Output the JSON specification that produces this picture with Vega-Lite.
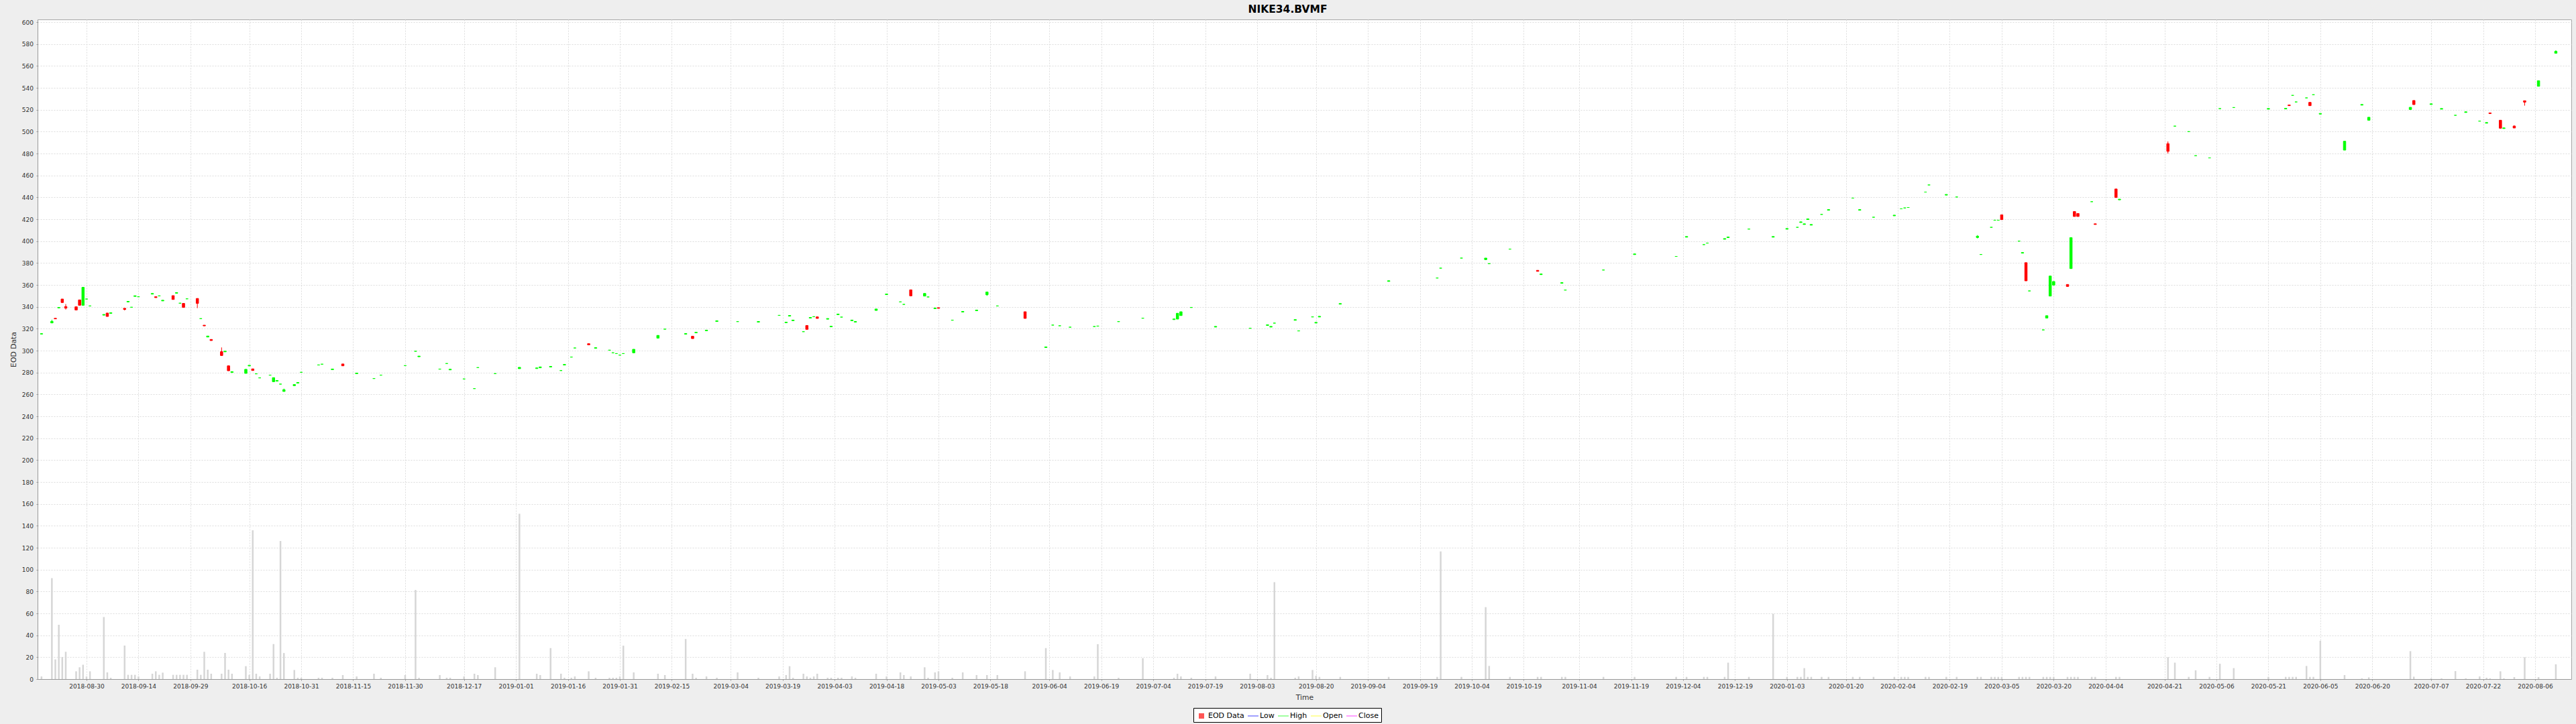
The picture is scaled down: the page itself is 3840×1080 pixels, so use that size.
{
"$schema":"https://vega.github.io/schema/vega-lite/v6.json",
"width":3777,"height":984,
"autosize":{"type":"none"},
"padding":{"left":56,"top":29,"right":7,"bottom":67},
"background":"#eeeeee",
"view":{"fill":"#ffffff","stroke":"#a8a8a8","strokeWidth":1},
"title":{"text":"NIKE34.BVMF","font":"DejaVu Sans","fontSize":15.5,"fontWeight":"bold","color":"#000000","anchor":"middle","frame":"group","dx":-25,"offset":7},
"config":{
"view":{"fill":"#ffffff","stroke":"#a8a8a8","strokeWidth":1},
"axis":{"labelFont":"DejaVu Sans","labelFontSize":9,"labelColor":"#333333","titleFont":"DejaVu Sans","titleFontSize":10.8,"titleFontWeight":"normal","titleColor":"#333333","gridColor":"#dcdcdc","gridDash":[2,2],"gridWidth":1,"domainColor":"#999999","tickColor":"#999999","tickSize":2,"labelPadding":4.5,"labelOverlap":false}
},
"data":{"values":[
{"date":"2018-08-17","open":315.1,"high":315.5,"low":315.1,"close":315.5,"volume":2.4},
{"date":"2018-08-20","open":325.3,"high":328.2,"low":325.0,"close":326.7,"volume":92.2},
{"date":"2018-08-21","open":329.5,"high":329.5,"low":329.0,"close":329.0,"volume":18},
{"date":"2018-08-22","open":339.0,"high":339.4,"low":339.0,"close":339.4,"volume":49.6},
{"date":"2018-08-23","open":347.1,"high":347.1,"low":343.9,"close":343.9,"volume":20.2},
{"date":"2018-08-24","open":340.2,"high":342.5,"low":337.5,"close":338.8,"volume":24.9},
{"date":"2018-08-27","open":340.0,"high":340.0,"low":337.1,"close":337.1,"volume":7.1},
{"date":"2018-08-28","open":346.3,"high":346.3,"low":341.4,"close":341.4,"volume":10.8},
{"date":"2018-08-29","open":341.4,"high":357.8,"low":341.4,"close":357.8,"volume":13.1},
{"date":"2018-08-30","open":347.1,"high":347.1,"low":347.1,"close":347.1,"volume":2.4},
{"date":"2018-08-31","open":340.8,"high":340.8,"low":340.8,"close":340.8,"volume":7.1},
{"date":"2018-09-04","open":332.4,"high":333.0,"low":332.4,"close":333.0,"volume":56.7},
{"date":"2018-09-05","open":334.3,"high":334.3,"low":331.2,"close":331.2,"volume":6.1},
{"date":"2018-09-06","open":334.0,"high":334.6,"low":334.0,"close":334.6,"volume":1.2},
{"date":"2018-09-10","open":338.6,"high":338.6,"low":336.7,"close":337.6,"volume":30.6},
{"date":"2018-09-11","open":344.4,"high":345.0,"low":344.4,"close":345.0,"volume":3.9},
{"date":"2018-09-12","open":339.6,"high":339.6,"low":339.6,"close":339.6,"volume":3.9},
{"date":"2018-09-13","open":349.5,"high":350.1,"low":349.5,"close":350.1,"volume":3.9},
{"date":"2018-09-14","open":349.2,"high":349.2,"low":349.2,"close":349.2,"volume":2.4},
{"date":"2018-09-18","open":351.6,"high":352.2,"low":351.6,"close":352.2,"volume":4.9},
{"date":"2018-09-19","open":349.2,"high":349.2,"low":348.4,"close":348.4,"volume":7.1},
{"date":"2018-09-20","open":350.0,"high":350.0,"low":350.0,"close":350.0,"volume":3.9},
{"date":"2018-09-21","open":345.4,"high":346.0,"low":345.4,"close":346.0,"volume":5.9},
{"date":"2018-09-24","open":350.2,"high":350.2,"low":346.7,"close":346.7,"volume":3.9},
{"date":"2018-09-25","open":352.4,"high":353.0,"low":352.4,"close":353.0,"volume":3.9},
{"date":"2018-09-26","open":343.3,"high":343.3,"low":343.3,"close":343.3,"volume":3.9},
{"date":"2018-09-27","open":343.1,"high":343.1,"low":339.4,"close":339.4,"volume":3.9},
{"date":"2018-09-28","open":347.3,"high":347.3,"low":347.3,"close":347.3,"volume":3.9},
{"date":"2018-10-01","open":347.6,"high":347.8,"low":338.8,"close":343.1,"volume":8.6},
{"date":"2018-10-02","open":329.2,"high":329.2,"low":329.2,"close":329.2,"volume":3.9},
{"date":"2018-10-03","open":323.2,"high":323.2,"low":322.6,"close":322.6,"volume":24.9},
{"date":"2018-10-04","open":312.4,"high":313.3,"low":312.4,"close":313.3,"volume":8.6},
{"date":"2018-10-05","open":310.2,"high":310.2,"low":309.2,"close":309.2,"volume":4.9},
{"date":"2018-10-08","open":299.0,"high":302.9,"low":295.5,"close":295.5,"volume":4.9},
{"date":"2018-10-09","open":298.9,"high":299.5,"low":298.9,"close":299.5,"volume":23.9},
{"date":"2018-10-10","open":286.1,"high":286.1,"low":281.6,"close":281.6,"volume":8.6},
{"date":"2018-10-11","open":280.0,"high":280.8,"low":280.0,"close":280.8,"volume":4.9},
{"date":"2018-10-15","open":279.2,"high":282.9,"low":279.2,"close":282.9,"volume":11.8},
{"date":"2018-10-16","open":286.0,"high":286.6,"low":286.0,"close":286.6,"volume":3.9},
{"date":"2018-10-17","open":283.3,"high":283.3,"low":281.8,"close":281.8,"volume":135.9},
{"date":"2018-10-18","open":278.8,"high":278.8,"low":278.8,"close":278.8,"volume":4.9},
{"date":"2018-10-19","open":275.1,"high":275.1,"low":275.1,"close":275.1,"volume":2.4},
{"date":"2018-10-22","open":277.6,"high":277.6,"low":277.6,"close":277.6,"volume":4.9},
{"date":"2018-10-23","open":271.6,"high":275.3,"low":271.6,"close":275.3,"volume":32},
{"date":"2018-10-24","open":272.1,"high":272.7,"low":272.1,"close":272.7,"volume":1.2},
{"date":"2018-10-25","open":269.4,"high":269.4,"low":269.4,"close":269.4,"volume":126.1},
{"date":"2018-10-26","open":262.7,"high":265.3,"low":262.7,"close":264.3,"volume":23.8},
{"date":"2018-10-29","open":268.0,"high":269.0,"low":268.0,"close":269.0,"volume":8.3},
{"date":"2018-10-30","open":270.3,"high":270.9,"low":270.3,"close":270.9,"volume":1.2},
{"date":"2018-10-31","open":280.2,"high":280.2,"low":280.2,"close":280.2,"volume":1.2},
{"date":"2018-11-05","open":286.9,"high":286.9,"low":286.9,"close":286.9,"volume":1.2},
{"date":"2018-11-06","open":287.6,"high":287.6,"low":287.6,"close":287.6,"volume":1.2},
{"date":"2018-11-09","open":282.6,"high":283.2,"low":282.6,"close":283.2,"volume":1.2},
{"date":"2018-11-12","open":287.8,"high":287.8,"low":286.1,"close":286.1,"volume":3.7},
{"date":"2018-11-16","open":278.9,"high":279.5,"low":278.9,"close":279.5,"volume":2.4},
{"date":"2018-11-21","open":274.5,"high":274.5,"low":274.5,"close":274.5,"volume":4.9},
{"date":"2018-11-23","open":277.6,"high":277.6,"low":277.6,"close":277.6,"volume":1.2},
{"date":"2018-11-30","open":286.3,"high":286.3,"low":286.3,"close":286.3,"volume":3.7},
{"date":"2018-12-03","open":299.4,"high":299.4,"low":299.4,"close":299.4,"volume":81.4},
{"date":"2018-12-04","open":294.4,"high":295.0,"low":294.4,"close":295.0,"volume":1.2},
{"date":"2018-12-10","open":283.1,"high":283.1,"low":283.1,"close":283.1,"volume":3.7},
{"date":"2018-12-12","open":288.2,"high":288.2,"low":288.2,"close":288.2,"volume":1.2},
{"date":"2018-12-13","open":282.4,"high":283.0,"low":282.4,"close":283.0,"volume":1.2},
{"date":"2018-12-17","open":274.1,"high":274.1,"low":274.1,"close":274.1,"volume":2.4},
{"date":"2018-12-20","open":265.3,"high":265.3,"low":265.3,"close":265.3,"volume":4.9},
{"date":"2018-12-21","open":284.5,"high":284.5,"low":284.5,"close":284.5,"volume":3.7},
{"date":"2018-12-26","open":279.0,"high":279.0,"low":279.0,"close":279.0,"volume":10.8},
{"date":"2019-01-02","open":283.5,"high":284.7,"low":283.5,"close":284.7,"volume":151},
{"date":"2019-01-07","open":283.6,"high":284.2,"low":283.6,"close":284.2,"volume":4.9},
{"date":"2019-01-08","open":284.3,"high":285.1,"low":284.3,"close":285.1,"volume":3.7},
{"date":"2019-01-11","open":285.0,"high":285.6,"low":285.0,"close":285.6,"volume":28.3},
{"date":"2019-01-14","open":281.8,"high":281.8,"low":281.8,"close":281.8,"volume":4.9},
{"date":"2019-01-15","open":286.8,"high":287.4,"low":286.8,"close":287.4,"volume":1.2},
{"date":"2019-01-17","open":294.1,"high":294.1,"low":294.1,"close":294.1,"volume":1.2},
{"date":"2019-01-18","open":302.4,"high":302.4,"low":302.4,"close":302.4,"volume":2.4},
{"date":"2019-01-22","open":306.3,"high":306.3,"low":305.3,"close":305.3,"volume":7.1},
{"date":"2019-01-24","open":302.1,"high":302.7,"low":302.1,"close":302.7,"volume":1.2},
{"date":"2019-01-28","open":300.4,"high":300.4,"low":300.4,"close":300.4,"volume":1.2},
{"date":"2019-01-29","open":298.0,"high":298.0,"low":298.0,"close":298.0,"volume":1.2},
{"date":"2019-01-30","open":297.3,"high":297.3,"low":297.3,"close":297.3,"volume":1.2},
{"date":"2019-01-31","open":295.9,"high":295.9,"low":295.9,"close":295.9,"volume":2.4},
{"date":"2019-02-01","open":297.3,"high":297.3,"low":297.3,"close":297.3,"volume":30.5},
{"date":"2019-02-04","open":298.0,"high":301.2,"low":298.0,"close":301.2,"volume":6.1},
{"date":"2019-02-11","open":311.4,"high":313.9,"low":311.4,"close":313.9,"volume":4.9},
{"date":"2019-02-13","open":319.6,"high":319.6,"low":319.6,"close":319.6,"volume":3.7},
{"date":"2019-02-19","open":315.0,"high":315.6,"low":315.0,"close":315.6,"volume":36.6},
{"date":"2019-02-21","open":313.1,"high":313.1,"low":311.0,"close":311.0,"volume":4.9},
{"date":"2019-02-22","open":316.2,"high":316.8,"low":316.2,"close":316.8,"volume":1.2},
{"date":"2019-02-25","open":318.1,"high":318.7,"low":318.1,"close":318.7,"volume":2.4},
{"date":"2019-02-28","open":326.6,"high":327.2,"low":326.6,"close":327.2,"volume":1.2},
{"date":"2019-03-06","open":326.5,"high":326.5,"low":326.5,"close":326.5,"volume":6.1},
{"date":"2019-03-12","open":326.0,"high":326.6,"low":326.0,"close":326.6,"volume":1.2},
{"date":"2019-03-18","open":332.2,"high":332.2,"low":332.2,"close":332.2,"volume":2.4},
{"date":"2019-03-20","open":325.4,"high":326.0,"low":325.4,"close":326.0,"volume":3.7},
{"date":"2019-03-21","open":331.5,"high":332.1,"low":331.5,"close":332.1,"volume":11.8},
{"date":"2019-03-22","open":327.3,"high":327.9,"low":327.3,"close":327.9,"volume":1.2},
{"date":"2019-03-25","open":317.3,"high":317.3,"low":317.3,"close":317.3,"volume":4.9},
{"date":"2019-03-26","open":322.9,"high":322.9,"low":319.4,"close":319.4,"volume":2.4},
{"date":"2019-03-27","open":329.7,"high":330.3,"low":329.7,"close":330.3,"volume":1.2},
{"date":"2019-03-28","open":331.0,"high":331.0,"low":331.0,"close":331.0,"volume":2.4},
{"date":"2019-03-29","open":330.8,"high":330.8,"low":329.4,"close":329.4,"volume":4.9},
{"date":"2019-04-01","open":328.7,"high":329.3,"low":328.7,"close":329.3,"volume":1.2},
{"date":"2019-04-02","open":321.7,"high":322.3,"low":321.7,"close":322.3,"volume":1.2},
{"date":"2019-04-04","open":332.8,"high":333.4,"low":332.8,"close":333.4,"volume":1.2},
{"date":"2019-04-05","open":330.6,"high":330.6,"low":330.6,"close":330.6,"volume":1.2},
{"date":"2019-04-08","open":327.3,"high":327.9,"low":327.3,"close":327.9,"volume":2.4},
{"date":"2019-04-09","open":326.0,"high":326.6,"low":326.0,"close":326.6,"volume":1.2},
{"date":"2019-04-15","open":336.7,"high":338.0,"low":336.7,"close":338.0,"volume":4.9},
{"date":"2019-04-18","open":351.1,"high":351.7,"low":351.1,"close":351.7,"volume":2.4},
{"date":"2019-04-22","open":344.5,"high":344.5,"low":344.5,"close":344.5,"volume":6.1},
{"date":"2019-04-23","open":342.2,"high":342.2,"low":342.2,"close":342.2,"volume":3.7},
{"date":"2019-04-25","open":355.5,"high":355.5,"low":350.0,"close":350.0,"volume":2.4},
{"date":"2019-04-29","open":349.8,"high":352.2,"low":349.8,"close":352.2,"volume":10.8},
{"date":"2019-04-30","open":349.0,"high":349.0,"low":349.0,"close":349.0,"volume":1.2},
{"date":"2019-05-02","open":338.3,"high":338.9,"low":338.3,"close":338.9,"volume":6.1},
{"date":"2019-05-03","open":339.2,"high":339.2,"low":338.6,"close":338.6,"volume":7.1},
{"date":"2019-05-07","open":327.8,"high":327.8,"low":327.8,"close":327.8,"volume":1.2},
{"date":"2019-05-10","open":335.2,"high":335.8,"low":335.2,"close":335.8,"volume":6.1},
{"date":"2019-05-14","open":336.4,"high":337.0,"low":336.4,"close":337.0,"volume":3.7},
{"date":"2019-05-17","open":351.0,"high":353.5,"low":350.0,"close":353.5,"volume":3.7},
{"date":"2019-05-20","open":340.8,"high":340.8,"low":340.8,"close":340.8,"volume":3.7},
{"date":"2019-05-28","open":335.5,"high":335.5,"low":329.4,"close":329.4,"volume":7.1},
{"date":"2019-06-03","open":302.8,"high":303.4,"low":302.8,"close":303.4,"volume":28.3},
{"date":"2019-06-05","open":323.3,"high":323.3,"low":323.3,"close":323.3,"volume":8.3},
{"date":"2019-06-07","open":322.7,"high":322.7,"low":322.7,"close":322.7,"volume":6.1},
{"date":"2019-06-10","open":321.4,"high":321.4,"low":321.4,"close":321.4,"volume":2.4},
{"date":"2019-06-17","open":322.0,"high":322.0,"low":322.0,"close":322.0,"volume":2.4},
{"date":"2019-06-18","open":322.4,"high":322.4,"low":322.4,"close":322.4,"volume":31.9},
{"date":"2019-06-24","open":326.5,"high":326.5,"low":326.5,"close":326.5,"volume":1.2},
{"date":"2019-07-01","open":329.6,"high":329.6,"low":329.6,"close":329.6,"volume":19.1},
{"date":"2019-07-10","open":328.3,"high":328.9,"low":328.3,"close":328.9,"volume":1.2},
{"date":"2019-07-11","open":328.8,"high":334.1,"low":328.8,"close":334.1,"volume":4.9},
{"date":"2019-07-12","open":332.0,"high":335.5,"low":332.0,"close":335.5,"volume":2.4},
{"date":"2019-07-15","open":339.4,"high":339.4,"low":339.4,"close":339.4,"volume":1.2},
{"date":"2019-07-22","open":321.5,"high":322.1,"low":321.5,"close":322.1,"volume":2.4},
{"date":"2019-08-01","open":320.4,"high":320.4,"low":320.4,"close":320.4,"volume":4.9},
{"date":"2019-08-06","open":323.0,"high":323.6,"low":323.0,"close":323.6,"volume":3.7},
{"date":"2019-08-07","open":321.5,"high":322.1,"low":321.5,"close":322.1,"volume":1.2},
{"date":"2019-08-08","open":325.1,"high":325.1,"low":325.1,"close":325.1,"volume":88.5},
{"date":"2019-08-14","open":327.7,"high":328.3,"low":327.7,"close":328.3,"volume":1.2},
{"date":"2019-08-15","open":318.0,"high":318.0,"low":318.0,"close":318.0,"volume":2.4},
{"date":"2019-08-19","open":330.8,"high":330.8,"low":330.8,"close":330.8,"volume":8.3},
{"date":"2019-08-20","open":325.2,"high":325.8,"low":325.2,"close":325.8,"volume":3},
{"date":"2019-08-21","open":330.7,"high":331.3,"low":330.7,"close":331.3,"volume":2},
{"date":"2019-08-27","open":342.4,"high":343.0,"low":342.4,"close":343.0,"volume":2},
{"date":"2019-09-10","open":363.2,"high":363.8,"low":363.2,"close":363.8,"volume":2},
{"date":"2019-09-24","open":366.3,"high":366.3,"low":366.3,"close":366.3,"volume":2},
{"date":"2019-09-25","open":375.3,"high":375.3,"low":375.3,"close":375.3,"volume":116.6},
{"date":"2019-10-01","open":384.5,"high":384.5,"low":384.5,"close":384.5,"volume":2},
{"date":"2019-10-08","open":383.1,"high":384.5,"low":383.1,"close":384.5,"volume":65.7},
{"date":"2019-10-09","open":379.4,"high":379.4,"low":379.4,"close":379.4,"volume":12},
{"date":"2019-10-15","open":392.7,"high":392.7,"low":392.7,"close":392.7,"volume":2},
{"date":"2019-10-23","open":373.3,"high":373.3,"low":372.4,"close":372.4,"volume":2},
{"date":"2019-10-24","open":369.4,"high":370.0,"low":369.4,"close":370.0,"volume":2},
{"date":"2019-10-30","open":361.5,"high":362.1,"low":361.5,"close":362.1,"volume":2},
{"date":"2019-10-31","open":355.3,"high":355.3,"low":355.3,"close":355.3,"volume":2},
{"date":"2019-11-11","open":373.6,"high":373.6,"low":373.6,"close":373.6,"volume":2},
{"date":"2019-11-20","open":387.7,"high":388.3,"low":387.7,"close":388.3,"volume":2},
{"date":"2019-12-02","open":386.0,"high":386.0,"low":386.0,"close":386.0,"volume":2},
{"date":"2019-12-05","open":403.6,"high":404.2,"low":403.6,"close":404.2,"volume":2},
{"date":"2019-12-10","open":396.8,"high":396.8,"low":396.8,"close":396.8,"volume":2},
{"date":"2019-12-11","open":398.2,"high":398.2,"low":398.2,"close":398.2,"volume":2},
{"date":"2019-12-16","open":401.7,"high":402.3,"low":401.7,"close":402.3,"volume":2},
{"date":"2019-12-17","open":403.2,"high":403.8,"low":403.2,"close":403.8,"volume":15},
{"date":"2019-12-23","open":411.0,"high":411.0,"low":411.0,"close":411.0,"volume":2},
{"date":"2019-12-30","open":403.6,"high":404.2,"low":403.6,"close":404.2,"volume":59.6},
{"date":"2020-01-03","open":410.9,"high":411.5,"low":410.9,"close":411.5,"volume":2},
{"date":"2020-01-06","open":412.6,"high":412.6,"low":412.6,"close":412.6,"volume":2},
{"date":"2020-01-07","open":417.0,"high":417.6,"low":417.0,"close":417.6,"volume":2},
{"date":"2020-01-08","open":415.2,"high":415.8,"low":415.2,"close":415.8,"volume":10},
{"date":"2020-01-09","open":419.7,"high":420.3,"low":419.7,"close":420.3,"volume":2},
{"date":"2020-01-10","open":414.6,"high":415.2,"low":414.6,"close":415.2,"volume":2},
{"date":"2020-01-13","open":424.4,"high":424.4,"low":424.4,"close":424.4,"volume":2},
{"date":"2020-01-15","open":428.2,"high":428.8,"low":428.2,"close":428.8,"volume":2},
{"date":"2020-01-22","open":439.3,"high":439.3,"low":439.3,"close":439.3,"volume":2},
{"date":"2020-01-24","open":428.2,"high":428.8,"low":428.2,"close":428.8,"volume":2},
{"date":"2020-01-28","open":421.8,"high":421.8,"low":421.8,"close":421.8,"volume":2},
{"date":"2020-02-03","open":423.1,"high":423.7,"low":423.1,"close":423.7,"volume":2},
{"date":"2020-02-05","open":429.5,"high":429.5,"low":429.5,"close":429.5,"volume":2},
{"date":"2020-02-06","open":430.3,"high":430.3,"low":430.3,"close":430.3,"volume":2},
{"date":"2020-02-07","open":430.7,"high":430.7,"low":430.7,"close":430.7,"volume":2},
{"date":"2020-02-12","open":444.8,"high":444.8,"low":444.8,"close":444.8,"volume":2},
{"date":"2020-02-13","open":451.3,"high":451.3,"low":451.3,"close":451.3,"volume":2},
{"date":"2020-02-18","open":442.0,"high":442.6,"low":442.0,"close":442.6,"volume":2},
{"date":"2020-02-21","open":440.3,"high":440.3,"low":440.3,"close":440.3,"volume":2},
{"date":"2020-02-27","open":403.3,"high":405.5,"low":402.5,"close":404.5,"volume":2},
{"date":"2020-02-28","open":387.8,"high":387.8,"low":387.8,"close":387.8,"volume":2},
{"date":"2020-03-02","open":412.6,"high":412.6,"low":412.6,"close":412.6,"volume":2},
{"date":"2020-03-03","open":419.1,"high":419.1,"low":419.1,"close":419.1,"volume":2},
{"date":"2020-03-04","open":419.1,"high":419.1,"low":419.1,"close":419.1,"volume":2},
{"date":"2020-03-05","open":424.0,"high":424.0,"low":419.6,"close":419.6,"volume":2},
{"date":"2020-03-10","open":400.0,"high":400.0,"low":400.0,"close":400.0,"volume":2},
{"date":"2020-03-11","open":389.0,"high":389.6,"low":389.0,"close":389.6,"volume":2},
{"date":"2020-03-12","open":380.3,"high":380.3,"low":363.7,"close":363.7,"volume":2},
{"date":"2020-03-13","open":354.5,"high":354.5,"low":354.5,"close":354.5,"volume":2},
{"date":"2020-03-17","open":318.9,"high":318.9,"low":318.9,"close":318.9,"volume":2},
{"date":"2020-03-18","open":329.7,"high":331.9,"low":329.7,"close":331.9,"volume":2},
{"date":"2020-03-19","open":349.8,"high":368.1,"low":349.8,"close":368.1,"volume":2},
{"date":"2020-03-20","open":359.8,"high":363.1,"low":359.8,"close":363.1,"volume":2},
{"date":"2020-03-24","open":360.4,"high":360.4,"low":358.6,"close":358.6,"volume":2},
{"date":"2020-03-25","open":374.9,"high":403.2,"low":374.9,"close":403.2,"volume":2},
{"date":"2020-03-26","open":427.0,"high":427.0,"low":422.5,"close":422.5,"volume":2},
{"date":"2020-03-27","open":425.2,"high":425.2,"low":422.5,"close":422.5,"volume":2},
{"date":"2020-03-31","open":436.0,"high":436.0,"low":436.0,"close":436.0,"volume":2},
{"date":"2020-04-01","open":415.8,"high":415.8,"low":415.2,"close":415.2,"volume":2},
{"date":"2020-04-07","open":447.6,"high":447.6,"low":439.8,"close":439.8,"volume":2},
{"date":"2020-04-08","open":437.7,"high":438.3,"low":437.7,"close":438.3,"volume":2},
{"date":"2020-04-22","open":489.0,"high":491.0,"low":480.0,"close":482.0,"volume":20},
{"date":"2020-04-24","open":505.0,"high":505.0,"low":505.0,"close":505.0,"volume":15},
{"date":"2020-04-28","open":500.0,"high":500.0,"low":500.0,"close":500.0,"volume":2},
{"date":"2020-04-30","open":478.0,"high":478.0,"low":478.0,"close":478.0,"volume":8},
{"date":"2020-05-04","open":476.0,"high":476.0,"low":476.0,"close":476.0,"volume":2},
{"date":"2020-05-07","open":521.0,"high":521.0,"low":521.0,"close":521.0,"volume":14},
{"date":"2020-05-11","open":522.0,"high":522.0,"low":522.0,"close":522.0,"volume":10},
{"date":"2020-05-21","open":520.5,"high":521.1,"low":520.5,"close":521.1,"volume":2},
{"date":"2020-05-26","open":520.7,"high":521.3,"low":520.7,"close":521.3,"volume":2},
{"date":"2020-05-27","open":524.3,"high":524.3,"low":523.7,"close":523.7,"volume":2},
{"date":"2020-05-28","open":533.1,"high":533.1,"low":533.1,"close":533.1,"volume":2},
{"date":"2020-05-29","open":527.1,"high":527.1,"low":527.1,"close":527.1,"volume":2},
{"date":"2020-06-01","open":530.8,"high":530.8,"low":530.8,"close":530.8,"volume":12},
{"date":"2020-06-02","open":526.7,"high":526.7,"low":523.7,"close":523.7,"volume":2},
{"date":"2020-06-03","open":533.7,"high":533.7,"low":533.7,"close":533.7,"volume":2},
{"date":"2020-06-05","open":516.0,"high":516.6,"low":516.0,"close":516.6,"volume":35},
{"date":"2020-06-12","open":483.1,"high":491.2,"low":483.1,"close":491.2,"volume":3.7},
{"date":"2020-06-17","open":524.2,"high":524.8,"low":524.2,"close":524.8,"volume":0.6},
{"date":"2020-06-19","open":510.4,"high":513.1,"low":510.4,"close":513.1,"volume":1.6},
{"date":"2020-07-01","open":520.2,"high":522.2,"low":520.2,"close":522.2,"volume":25.5},
{"date":"2020-07-02","open":528.4,"high":528.4,"low":524.7,"close":524.7,"volume":2.2},
{"date":"2020-07-07","open":524.8,"high":525.4,"low":524.8,"close":525.4,"volume":0.6},
{"date":"2020-07-10","open":520.5,"high":521.1,"low":520.5,"close":521.1,"volume":0.6},
{"date":"2020-07-14","open":514.9,"high":514.9,"low":514.9,"close":514.9,"volume":7.3},
{"date":"2020-07-17","open":517.5,"high":518.1,"low":517.5,"close":518.1,"volume":0.6},
{"date":"2020-07-21","open":509.6,"high":509.6,"low":509.6,"close":509.6,"volume":2.4},
{"date":"2020-07-23","open":507.7,"high":508.3,"low":507.7,"close":508.3,"volume":1.2},
{"date":"2020-07-24","open":517.1,"high":517.1,"low":516.5,"close":516.5,"volume":0.6},
{"date":"2020-07-27","open":510.4,"high":510.4,"low":503.1,"close":503.1,"volume":7.1},
{"date":"2020-07-28","open":502.8,"high":503.4,"low":502.8,"close":503.4,"volume":0.6},
{"date":"2020-07-31","open":505.1,"high":505.7,"low":503.3,"close":503.3,"volume":1.8},
{"date":"2020-08-03","open":528.2,"high":528.2,"low":523.7,"close":526.9,"volume":20},
{"date":"2020-08-07","open":541.4,"high":546.5,"low":541.4,"close":546.5,"volume":1.8},
{"date":"2020-08-12","open":571.6,"high":574.3,"low":571.2,"close":573.3,"volume":13.5}
]},
"layer":[
{
"mark":{"type":"bar","color":"#d6d6d6","size":2.5,"clip":true},
"encoding":{
"x":{"field":"date","type":"temporal","title":"Time","scale":{"type":"utc","domain":[{"year":2018,"month":8,"date":16,"hours":20,"utc":true},{"year":2020,"month":8,"date":15,"hours":12,"utc":true}]},
"axis":{"title":"Time","format":"%Y-%m-%d","labelOverlap":false,"labelFlush":false,"grid":true,"titlePadding":6,"tickCount":200,
"values":[{"year":2018,"month":8,"date":30,"utc":true},{"year":2018,"month":9,"date":14,"utc":true},{"year":2018,"month":9,"date":29,"utc":true},{"year":2018,"month":10,"date":16,"utc":true},{"year":2018,"month":10,"date":31,"utc":true},{"year":2018,"month":11,"date":15,"utc":true},{"year":2018,"month":11,"date":30,"utc":true},{"year":2018,"month":12,"date":17,"utc":true},{"year":2019,"month":1,"date":1,"utc":true},{"year":2019,"month":1,"date":16,"utc":true},{"year":2019,"month":1,"date":31,"utc":true},{"year":2019,"month":2,"date":15,"utc":true},{"year":2019,"month":3,"date":4,"utc":true},{"year":2019,"month":3,"date":19,"utc":true},{"year":2019,"month":4,"date":3,"utc":true},{"year":2019,"month":4,"date":18,"utc":true},{"year":2019,"month":5,"date":3,"utc":true},{"year":2019,"month":5,"date":18,"utc":true},{"year":2019,"month":6,"date":4,"utc":true},{"year":2019,"month":6,"date":19,"utc":true},{"year":2019,"month":7,"date":4,"utc":true},{"year":2019,"month":7,"date":19,"utc":true},{"year":2019,"month":8,"date":3,"utc":true},{"year":2019,"month":8,"date":20,"utc":true},{"year":2019,"month":9,"date":4,"utc":true},{"year":2019,"month":9,"date":19,"utc":true},{"year":2019,"month":10,"date":4,"utc":true},{"year":2019,"month":10,"date":19,"utc":true},{"year":2019,"month":11,"date":4,"utc":true},{"year":2019,"month":11,"date":19,"utc":true},{"year":2019,"month":12,"date":4,"utc":true},{"year":2019,"month":12,"date":19,"utc":true},{"year":2020,"month":1,"date":3,"utc":true},{"year":2020,"month":1,"date":20,"utc":true},{"year":2020,"month":2,"date":4,"utc":true},{"year":2020,"month":2,"date":19,"utc":true},{"year":2020,"month":3,"date":5,"utc":true},{"year":2020,"month":3,"date":20,"utc":true},{"year":2020,"month":4,"date":4,"utc":true},{"year":2020,"month":4,"date":21,"utc":true},{"year":2020,"month":5,"date":6,"utc":true},{"year":2020,"month":5,"date":21,"utc":true},{"year":2020,"month":6,"date":5,"utc":true},{"year":2020,"month":6,"date":20,"utc":true},{"year":2020,"month":7,"date":7,"utc":true},{"year":2020,"month":7,"date":22,"utc":true},{"year":2020,"month":8,"date":6,"utc":true}]}},
"y":{"field":"volume","type":"quantitative","title":"EOD Data","scale":{"domain":[0,602.45],"nice":false,"zero":true},
"axis":{"title":"EOD Data","grid":true,"labelOverlap":false,"titlePadding":7,"tickCount":100,"values":[0,20,40,60,80,100,120,140,160,180,200,220,240,260,280,300,320,340,360,380,400,420,440,460,480,500,520,540,560,580,600]}}
}
},
{
"mark":{"type":"rule","strokeWidth":1,"clip":true},
"encoding":{
"x":{"field":"date","type":"temporal","title":"Time"},
"y":{"field":"low","type":"quantitative","title":"EOD Data"},
"y2":{"field":"high"},
"color":{"condition":{"test":"datum.close >= datum.open","value":"#00ff00"},"value":"#ff0000"}
}
},
{
"mark":{"type":"bar","size":3.5,"strokeWidth":1,"clip":true},
"encoding":{
"x":{"field":"date","type":"temporal","title":"Time"},
"y":{"field":"open","type":"quantitative","title":"EOD Data"},
"y2":{"field":"close"},
"fill":{"condition":{"test":"datum.close >= datum.open","value":"#00ff00"},"value":"#ff0000"},
"stroke":{"condition":{"test":"datum.close >= datum.open","value":"#00ff00"},"value":"#ff0000"}
}
},
{
"data":{"values":[{"series":"EOD Data"},{"series":"Low"},{"series":"High"},{"series":"Open"},{"series":"Close"}]},
"mark":{"type":"point","filled":true,"opacity":0},
"encoding":{
"color":{"field":"series","type":"nominal","scale":{"domain":["EOD Data","Low","High","Open","Close"],"range":["#ff5555","#5555ff","#55ff55","#ffff55","#ff55ff"]},
"legend":{"title":null,"orient":"none","legendX":1723,"legendY":1027,"direction":"horizontal","symbolSize":256,"symbolStrokeWidth":0,"symbolOpacity":1,"labelFont":"DejaVu Sans","labelFontSize":11,"labelColor":"#000000","labelOffset":2,"columnPadding":5,"padding":4,"strokeColor":"#000000","fillColor":"#ffffff","cornerRadius":0}},
"shape":{"field":"series","type":"nominal","scale":{"domain":["EOD Data","Low","High","Open","Close"],"range":["M-0.5,-0.5H0.5V0.5H-0.5Z","M-1,-0.07H1V0.07H-1Z","M-1,-0.07H1V0.07H-1Z","M-1,-0.07H1V0.07H-1Z","M-1,-0.07H1V0.07H-1Z"]},
"legend":{"title":null,"orient":"none","legendX":1723,"legendY":1027,"direction":"horizontal","symbolSize":256,"symbolStrokeWidth":0,"symbolOpacity":1,"labelFont":"DejaVu Sans","labelFontSize":11,"labelColor":"#000000","labelOffset":2,"columnPadding":5,"padding":4,"strokeColor":"#000000","fillColor":"#ffffff","cornerRadius":0}}
}
}
]
}
